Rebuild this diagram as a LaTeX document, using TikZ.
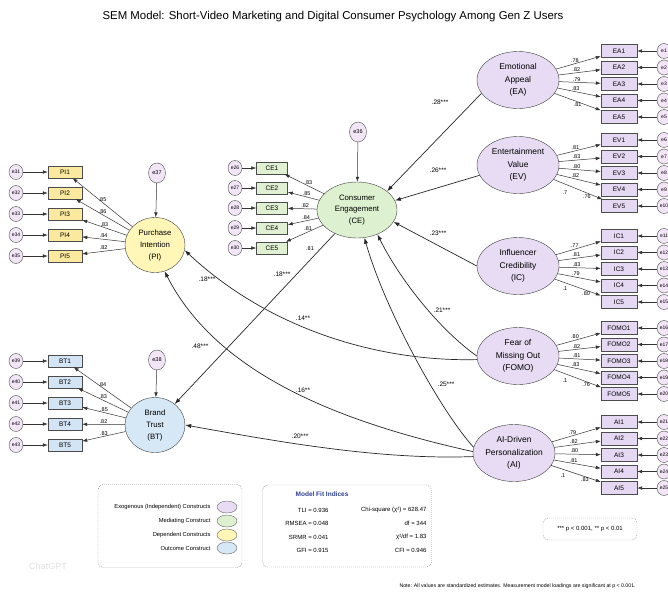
\documentclass[tikz,border=0pt]{standalone}
\usepackage{fontspec}
\setmainfont{Liberation Sans}
\usepackage{xcolor}
\usepackage{tikz}
\usetikzlibrary{shapes.geometric, arrows, arrows.meta}
\definecolor{exofill}{HTML}{E7DCF3}
\definecolor{exoitem}{HTML}{E4D8F2}
\definecolor{medfill}{HTML}{DDF0D0}
\definecolor{ceitem}{HTML}{E0F0D2}
\definecolor{depfill}{HTML}{FFF6B8}
\definecolor{piitem}{HTML}{FBE9A0}
\definecolor{outfill}{HTML}{D6E7F6}
\definecolor{btitem}{HTML}{D3E4F4}
\definecolor{errfill}{HTML}{F1E5F6}
\definecolor{fitblue}{HTML}{2E3D8F}
\tikzstyle{exo} = [ellipse, minimum width=82pt, minimum height=57pt, inner sep=0pt, align=center, draw=black!75, fill=exofill, font=\fontsize{8.4}{12.5}\selectfont]
\tikzstyle{medi} = [ellipse, minimum width=80pt, minimum height=56pt, inner sep=0pt, align=center, draw=black!75, fill=medfill, font=\fontsize{7.8}{11.5}\selectfont]
\tikzstyle{depd} = [ellipse, minimum width=60pt, minimum height=55pt, inner sep=0pt, align=center, draw=black!75, fill=depfill, font=\fontsize{7.8}{12}\selectfont]
\tikzstyle{outc} = [ellipse, minimum width=60pt, minimum height=55pt, inner sep=0pt, align=center, draw=black!75, fill=outfill, font=\fontsize{7.8}{12}\selectfont]
\tikzstyle{itemexo} = [rectangle, minimum width=36pt, minimum height=13pt, inner sep=0pt, draw=black!70, fill=exoitem, font=\fontsize{6.5}{7}\selectfont]
\tikzstyle{itemce} = [rectangle, minimum width=31pt, minimum height=12pt, inner sep=0pt, draw=black!70, fill=ceitem, font=\fontsize{6.5}{7}\selectfont]
\tikzstyle{itempi} = [rectangle, minimum width=34pt, minimum height=12pt, inner sep=0pt, draw=black!70, fill=piitem, font=\fontsize{6.5}{7}\selectfont]
\tikzstyle{itembt} = [rectangle, minimum width=34pt, minimum height=12pt, inner sep=0pt, draw=black!70, fill=btitem, font=\fontsize{6.5}{7}\selectfont]
\tikzstyle{errnode} = [ellipse, minimum width=14pt, minimum height=15pt, inner sep=0pt, draw=black!70, fill=errfill, font=\fontsize{5}{5}\selectfont]
\tikzstyle{dist} = [ellipse, minimum width=17pt, minimum height=20pt, inner sep=0pt, draw=black!70, fill=errfill, font=\fontsize{5.5}{6}\selectfont]
\tikzstyle{arrow} = [-{Latex[length=5pt,width=3.6pt]}, draw=black!80, line width=0.5pt]
\tikzstyle{sarrow} = [-{Latex[length=6pt,width=4.2pt]}, draw=black!85, line width=0.7pt]
\tikzstyle{ldlab} = [font=\fontsize{5.5}{6}\selectfont, inner sep=1pt]
\tikzstyle{pathlab} = [font=\fontsize{6.5}{7}\selectfont]
\tikzstyle{keybox} = [rectangle, rounded corners=5pt, draw=black!45, dash pattern=on 1pt off 1pt]
\tikzstyle{keyswatch} = [ellipse, minimum width=20pt, minimum height=12pt, draw=black!60]
\tikzstyle{keytext} = [anchor=east, font=\fontsize{5.8}{7}\selectfont]
\tikzstyle{fittext} = [anchor=east, font=\fontsize{6}{7}\selectfont]

\begin{document}
\begin{tikzpicture}[x=1pt, y=-1pt, node distance=16.5pt]
        \useasboundingbox (0,0) rectangle (668,592);
        \node (title) [font=\fontsize{11.4}{13}\selectfont] at (333,17) {SEM Model: Short-Video Marketing and Digital Consumer Psychology Among Gen Z Users};

        % latent constructs
        \node (ea) [exo] at (518,80) {Emotional\\Appeal\\(EA)};
        \node (ev) [exo] at (518,165) {Entertainment\\Value\\(EV)};
        \node (ic) [exo] at (518,266) {Influencer\\Credibility\\(IC)};
        \node (fomo) [exo] at (518,356) {Fear of\\Missing Out\\(FOMO)};
        \node (ai) [exo] at (514,453) {AI-Driven\\Personalization\\(AI)};
        \node (ce) [medi] at (357,210) {Consumer\\Engagement\\(CE)};
        \node (pi) [depd] at (155,245) {Purchase\\Intention\\(PI)};
        \node (bt) [outc] at (155,425) {Brand\\Trust\\(BT)};
        \node (e36) [dist] at (358,132) {e36};
        \node (e37) [dist] at (157,173) {e37};
        \node (e38) [dist] at (157,360) {e38};

        % EA indicators
        \node (ea1) [itemexo] at (619,51) {EA1};
        \node (ea2) [itemexo, below of=ea1] {EA2};
        \node (ea3) [itemexo, below of=ea2] {EA3};
        \node (ea4) [itemexo, below of=ea3] {EA4};
        \node (ea5) [itemexo, below of=ea4] {EA5};
        \node (e1) [errnode, right of=ea1, xshift=28.5pt] {e1};
        \node (e2) [errnode, right of=ea2, xshift=28.5pt] {e2};
        \node (e3) [errnode, right of=ea3, xshift=28.5pt] {e3};
        \node (e4) [errnode, right of=ea4, xshift=28.5pt] {e4};
        \node (e5) [errnode, right of=ea5, xshift=28.5pt] {e5};

        % EV indicators
        \node (ev1) [itemexo] at (619,140) {EV1};
        \node (ev2) [itemexo, below of=ev1] {EV2};
        \node (ev3) [itemexo, below of=ev2] {EV3};
        \node (ev4) [itemexo, below of=ev3] {EV4};
        \node (ev5) [itemexo, below of=ev4] {EV5};
        \node (e6) [errnode, right of=ev1, xshift=28.5pt] {e6};
        \node (e7) [errnode, right of=ev2, xshift=28.5pt] {e7};
        \node (e8) [errnode, right of=ev3, xshift=28.5pt] {e8};
        \node (e9) [errnode, right of=ev4, xshift=28.5pt] {e9};
        \node (e10) [errnode, right of=ev5, xshift=28.5pt] {e10};

        % IC indicators
        \node (ic1) [itemexo] at (619,236) {IC1};
        \node (ic2) [itemexo, below of=ic1] {IC2};
        \node (ic3) [itemexo, below of=ic2] {IC3};
        \node (ic4) [itemexo, below of=ic3] {IC4};
        \node (ic5) [itemexo, below of=ic4] {IC5};
        \node (e11) [errnode, right of=ic1, xshift=28.5pt] {e11};
        \node (e12) [errnode, right of=ic2, xshift=28.5pt] {e12};
        \node (e13) [errnode, right of=ic3, xshift=28.5pt] {e13};
        \node (e14) [errnode, right of=ic4, xshift=28.5pt] {e14};
        \node (e15) [errnode, right of=ic5, xshift=28.5pt] {e15};

        % FOMO indicators
        \node (fomo1) [itemexo] at (619,328) {FOMO1};
        \node (fomo2) [itemexo, below of=fomo1] {FOMO2};
        \node (fomo3) [itemexo, below of=fomo2] {FOMO3};
        \node (fomo4) [itemexo, below of=fomo3] {FOMO4};
        \node (fomo5) [itemexo, below of=fomo4] {FOMO5};
        \node (e16) [errnode, right of=fomo1, xshift=28.5pt] {e16};
        \node (e17) [errnode, right of=fomo2, xshift=28.5pt] {e17};
        \node (e18) [errnode, right of=fomo3, xshift=28.5pt] {e18};
        \node (e19) [errnode, right of=fomo4, xshift=28.5pt] {e19};
        \node (e20) [errnode, right of=fomo5, xshift=28.5pt] {e20};

        % AI indicators
        \node (ai1) [itemexo] at (619,422) {AI1};
        \node (ai2) [itemexo, below of=ai1] {AI2};
        \node (ai3) [itemexo, below of=ai2] {AI3};
        \node (ai4) [itemexo, below of=ai3] {AI4};
        \node (ai5) [itemexo, below of=ai4] {AI5};
        \node (e21) [errnode, right of=ai1, xshift=28.5pt] {e21};
        \node (e22) [errnode, right of=ai2, xshift=28.5pt] {e22};
        \node (e23) [errnode, right of=ai3, xshift=28.5pt] {e23};
        \node (e24) [errnode, right of=ai4, xshift=28.5pt] {e24};
        \node (e25) [errnode, right of=ai5, xshift=28.5pt] {e25};

        % CE indicators
        \node (ce1) [itemce] at (272,168) {CE1};
        \node (ce2) [itemce, below of=ce1, yshift=-3.5pt] {CE2};
        \node (ce3) [itemce, below of=ce2, yshift=-3.5pt] {CE3};
        \node (ce4) [itemce, below of=ce3, yshift=-3.5pt] {CE4};
        \node (ce5) [itemce, below of=ce4, yshift=-3.5pt] {CE5};
        \node (e26) [errnode, left of=ce1, xshift=-20.5pt] {e26};
        \node (e27) [errnode, left of=ce2, xshift=-20.5pt] {e27};
        \node (e28) [errnode, left of=ce3, xshift=-20.5pt] {e28};
        \node (e29) [errnode, left of=ce4, xshift=-20.5pt] {e29};
        \node (e30) [errnode, left of=ce5, xshift=-20.5pt] {e30};

        % PI indicators
        \node (pi1) [itempi] at (65,172) {PI1};
        \node (pi2) [itempi, below of=pi1, yshift=-4.5pt] {PI2};
        \node (pi3) [itempi, below of=pi2, yshift=-4.5pt] {PI3};
        \node (pi4) [itempi, below of=pi3, yshift=-4.5pt] {PI4};
        \node (pi5) [itempi, below of=pi4, yshift=-4.5pt] {PI5};
        \node (e31) [errnode, left of=pi1, xshift=-32.5pt] {e31};
        \node (e32) [errnode, left of=pi2, xshift=-32.5pt] {e32};
        \node (e33) [errnode, left of=pi3, xshift=-32.5pt] {e33};
        \node (e34) [errnode, left of=pi4, xshift=-32.5pt] {e34};
        \node (e35) [errnode, left of=pi5, xshift=-32.5pt] {e35};

        % BT indicators
        \node (bt1) [itembt] at (65,361) {BT1};
        \node (bt2) [itembt, below of=bt1, yshift=-4.5pt] {BT2};
        \node (bt3) [itembt, below of=bt2, yshift=-4.5pt] {BT3};
        \node (bt4) [itembt, below of=bt3, yshift=-4.5pt] {BT4};
        \node (bt5) [itembt, below of=bt4, yshift=-4.5pt] {BT5};
        \node (e39) [errnode, left of=bt1, xshift=-32.5pt] {e39};
        \node (e40) [errnode, left of=bt2, xshift=-32.5pt] {e40};
        \node (e41) [errnode, left of=bt3, xshift=-32.5pt] {e41};
        \node (e42) [errnode, left of=bt4, xshift=-32.5pt] {e42};
        \node (e43) [errnode, left of=bt5, xshift=-32.5pt] {e43};

        % error terms
        \draw [arrow] (e1) -- (ea1);
        \draw [arrow] (e2) -- (ea2);
        \draw [arrow] (e3) -- (ea3);
        \draw [arrow] (e4) -- (ea4);
        \draw [arrow] (e5) -- (ea5);
        \draw [arrow] (e6) -- (ev1);
        \draw [arrow] (e7) -- (ev2);
        \draw [arrow] (e8) -- (ev3);
        \draw [arrow] (e9) -- (ev4);
        \draw [arrow] (e10) -- (ev5);
        \draw [arrow] (e11) -- (ic1);
        \draw [arrow] (e12) -- (ic2);
        \draw [arrow] (e13) -- (ic3);
        \draw [arrow] (e14) -- (ic4);
        \draw [arrow] (e15) -- (ic5);
        \draw [arrow] (e16) -- (fomo1);
        \draw [arrow] (e17) -- (fomo2);
        \draw [arrow] (e18) -- (fomo3);
        \draw [arrow] (e19) -- (fomo4);
        \draw [arrow] (e20) -- (fomo5);
        \draw [arrow] (e21) -- (ai1);
        \draw [arrow] (e22) -- (ai2);
        \draw [arrow] (e23) -- (ai3);
        \draw [arrow] (e24) -- (ai4);
        \draw [arrow] (e25) -- (ai5);
        \draw [arrow] (e26) -- (ce1);
        \draw [arrow] (e27) -- (ce2);
        \draw [arrow] (e28) -- (ce3);
        \draw [arrow] (e29) -- (ce4);
        \draw [arrow] (e30) -- (ce5);
        \draw [arrow] (e31) -- (pi1);
        \draw [arrow] (e32) -- (pi2);
        \draw [arrow] (e33) -- (pi3);
        \draw [arrow] (e34) -- (pi4);
        \draw [arrow] (e35) -- (pi5);
        \draw [arrow] (e39) -- (bt1);
        \draw [arrow] (e40) -- (bt2);
        \draw [arrow] (e41) -- (bt3);
        \draw [arrow] (e42) -- (bt4);
        \draw [arrow] (e43) -- (bt5);
        \draw [arrow] (e36) -- (ce);
        \draw [arrow] (e37) -- (pi);
        \draw [arrow] (e38) -- (bt);

        % loadings
        \draw [arrow] (ea) -- node[ldlab, pos=0.42, above] {.78} (ea1);
        \draw [arrow] (ea) -- node[ldlab, pos=0.42, above] {.82} (ea2);
        \draw [arrow] (ea) -- node[ldlab, pos=0.42, above] {.79} (ea3);
        \draw [arrow] (ea) -- node[ldlab, pos=0.42, above] {.83} (ea4);
        \draw [arrow] (ea) -- node[ldlab, pos=0.5, below] {.81} (ea5);
        \draw [arrow] (ev) -- node[ldlab, pos=0.42, above] {.81} (ev1);
        \draw [arrow] (ev) -- node[ldlab, pos=0.42, above] {.83} (ev2);
        \draw [arrow] (ev) -- node[ldlab, pos=0.42, above] {.80} (ev3);
        \draw [arrow] (ev) -- node[ldlab, pos=0.42, above] {.82} (ev4);
        \draw [arrow] (ev) -- node[ldlab, pos=0.68, below] {.76} (ev5);
        \draw [arrow] (ic) -- node[ldlab, pos=0.42, above] {.77} (ic1);
        \draw [arrow] (ic) -- node[ldlab, pos=0.42, above] {.81} (ic2);
        \draw [arrow] (ic) -- node[ldlab, pos=0.42, above] {.83} (ic3);
        \draw [arrow] (ic) -- node[ldlab, pos=0.42, above] {.79} (ic4);
        \draw [arrow] (ic) -- node[ldlab, pos=0.68, below] {.80} (ic5);
        \draw [arrow] (fomo) -- node[ldlab, pos=0.42, above] {.80} (fomo1);
        \draw [arrow] (fomo) -- node[ldlab, pos=0.42, above] {.82} (fomo2);
        \draw [arrow] (fomo) -- node[ldlab, pos=0.42, above] {.81} (fomo3);
        \draw [arrow] (fomo) -- node[ldlab, pos=0.42, above] {.83} (fomo4);
        \draw [arrow] (fomo) -- node[ldlab, pos=0.68, below] {.76} (fomo5);
        \draw [arrow] (ai) -- node[ldlab, pos=0.42, above] {.79} (ai1);
        \draw [arrow] (ai) -- node[ldlab, pos=0.42, above] {.82} (ai2);
        \draw [arrow] (ai) -- node[ldlab, pos=0.42, above] {.80} (ai3);
        \draw [arrow] (ai) -- node[ldlab, pos=0.42, above] {.81} (ai4);
        \draw [arrow] (ai) -- node[ldlab, pos=0.68, below] {.83} (ai5);
        \node (xev) [ldlab] at (565,193) {.7};
        \node (xic) [ldlab] at (565,289) {.1};
        \node (xfomo) [ldlab] at (565,381) {.1};
        \node (xai) [ldlab] at (563,476) {.1};
        \draw [arrow] (ce) -- node[ldlab, pos=0.4, above] {.83} (ce1);
        \draw [arrow] (ce) -- node[ldlab, pos=0.4, above] {.85} (ce2);
        \draw [arrow] (ce) -- node[ldlab, pos=0.4, above] {.82} (ce3);
        \draw [arrow] (ce) -- node[ldlab, pos=0.4, above] {.84} (ce4);
        \draw [arrow] (ce) -- node[ldlab, pos=0.4, above] {.81} (ce5);
        \node (xce) [ldlab] at (310,249) {.81};
        \draw [arrow] (pi) -- node[ldlab, pos=0.5, above] {.85} (pi1);
        \draw [arrow] (pi) -- node[ldlab, pos=0.5, above] {.86} (pi2);
        \draw [arrow] (pi) -- node[ldlab, pos=0.5, above] {.83} (pi3);
        \draw [arrow] (pi) -- node[ldlab, pos=0.5, above] {.84} (pi4);
        \draw [arrow] (pi) -- node[ldlab, pos=0.5, above] {.82} (pi5);
        \draw [arrow] (bt) -- node[ldlab, pos=0.5, above] {.84} (bt1);
        \draw [arrow] (bt) -- node[ldlab, pos=0.5, above] {.83} (bt2);
        \draw [arrow] (bt) -- node[ldlab, pos=0.5, above] {.85} (bt3);
        \draw [arrow] (bt) -- node[ldlab, pos=0.5, above] {.82} (bt4);
        \draw [arrow] (bt) -- node[ldlab, pos=0.5, above] {.83} (bt5);

        % structural paths
        \draw [sarrow] (ea.200) -- (ce.32);
        \draw [sarrow] (ev.195) -- (ce.14);
        \draw [sarrow] (ic.west) -- (ce.-18);
        \draw [sarrow] (fomo.180) .. controls (440,330) and (400,280) .. (ce.-50);
        \draw [sarrow] (ai.172) .. controls (440,410) and (385,310) .. (ce.-75);
        \draw [sarrow] (fomo.185) .. controls (380,362) and (270,330) .. (pi.-10);
        \draw [sarrow] (ai.178) .. controls (330,420) and (215,370) .. (pi.-70);
        \draw [sarrow] (ce) -- (bt);
        \draw [sarrow] (ai.185) .. controls (380,460) and (280,442) .. (bt.east);
        \node (p28) [pathlab] at (440,102) {.28***};
        \node (p26) [pathlab] at (438,170) {.26***};
        \node (p23) [pathlab] at (438,233) {.23***};
        \node (p21) [pathlab] at (442,310) {.21***};
        \node (p25) [pathlab] at (446,384) {.25***};
        \node (p18a) [pathlab] at (282,274) {.18***};
        \node (p18b) [pathlab] at (207,279) {.18***};
        \node (p14) [pathlab] at (303,318) {.14**};
        \node (p48) [pathlab] at (200,346) {.48***};
        \node (p16) [pathlab] at (303,390) {.16**};
        \node (p20) [pathlab] at (300,436) {.20***};

        % legend
        \node (legbox) [keybox, minimum width=144pt, minimum height=83pt] at (170,526) {};
        \node (kexo) [keyswatch, fill=exofill] at (227,507) {};
        \node (kmed) [keyswatch, fill=medfill] at (227,521) {};
        \node (kdep) [keyswatch, fill=depfill] at (227,535) {};
        \node (kout) [keyswatch, fill=outfill] at (227,548) {};
        \node (texo) [keytext] at (214,507) {Exogenous (Independent) Constructs};
        \node (tmed) [keytext] at (214,521) {Mediating Construct};
        \node (tdep) [keytext] at (214,535) {Dependent Constructs};
        \node (tout) [keytext] at (214,548) {Outcome Construct};

        % model fit
        \node (fitbox) [keybox, minimum width=169pt, minimum height=82pt] at (347,526) {};
        \node (fittitle) [font=\bfseries\fontsize{6.5}{7}\selectfont, text=fitblue] at (322,494) {Model Fit Indices};
        \node (tli) [fittext] at (332,510) {TLI = 0.936};
        \node (rmsea) [fittext] at (332,523) {RMSEA = 0.048};
        \node (srmr) [fittext] at (332,537) {SRMR = 0.041};
        \node (gfi) [fittext] at (332,550) {GFI = 0.915};
        \node (chisq) [fittext] at (430,510) {Chi-square (χ²) = 628.47};
        \node (dfree) [fittext] at (430,523) {df = 344};
        \node (chidf) [fittext] at (430,537) {χ²/df = 1.83};
        \node (cfi) [fittext] at (430,550) {CFI = 0.946};

        \node (pbox) [keybox, minimum width=94pt, minimum height=22pt, font=\fontsize{6}{7}\selectfont] at (590,529) {*** p < 0.001, ** p < 0.01};
        \node (note) [anchor=west, font=\fontsize{5.2}{6}\selectfont] at (396,586) {Note: All values are standardized estimates. Measurement model loadings are significant at p < 0.001.};
        \node (wmark) [text=black!12, font=\fontsize{9}{10}\selectfont] at (48,566) {ChatGPT};
\end{tikzpicture}
\end{document}
